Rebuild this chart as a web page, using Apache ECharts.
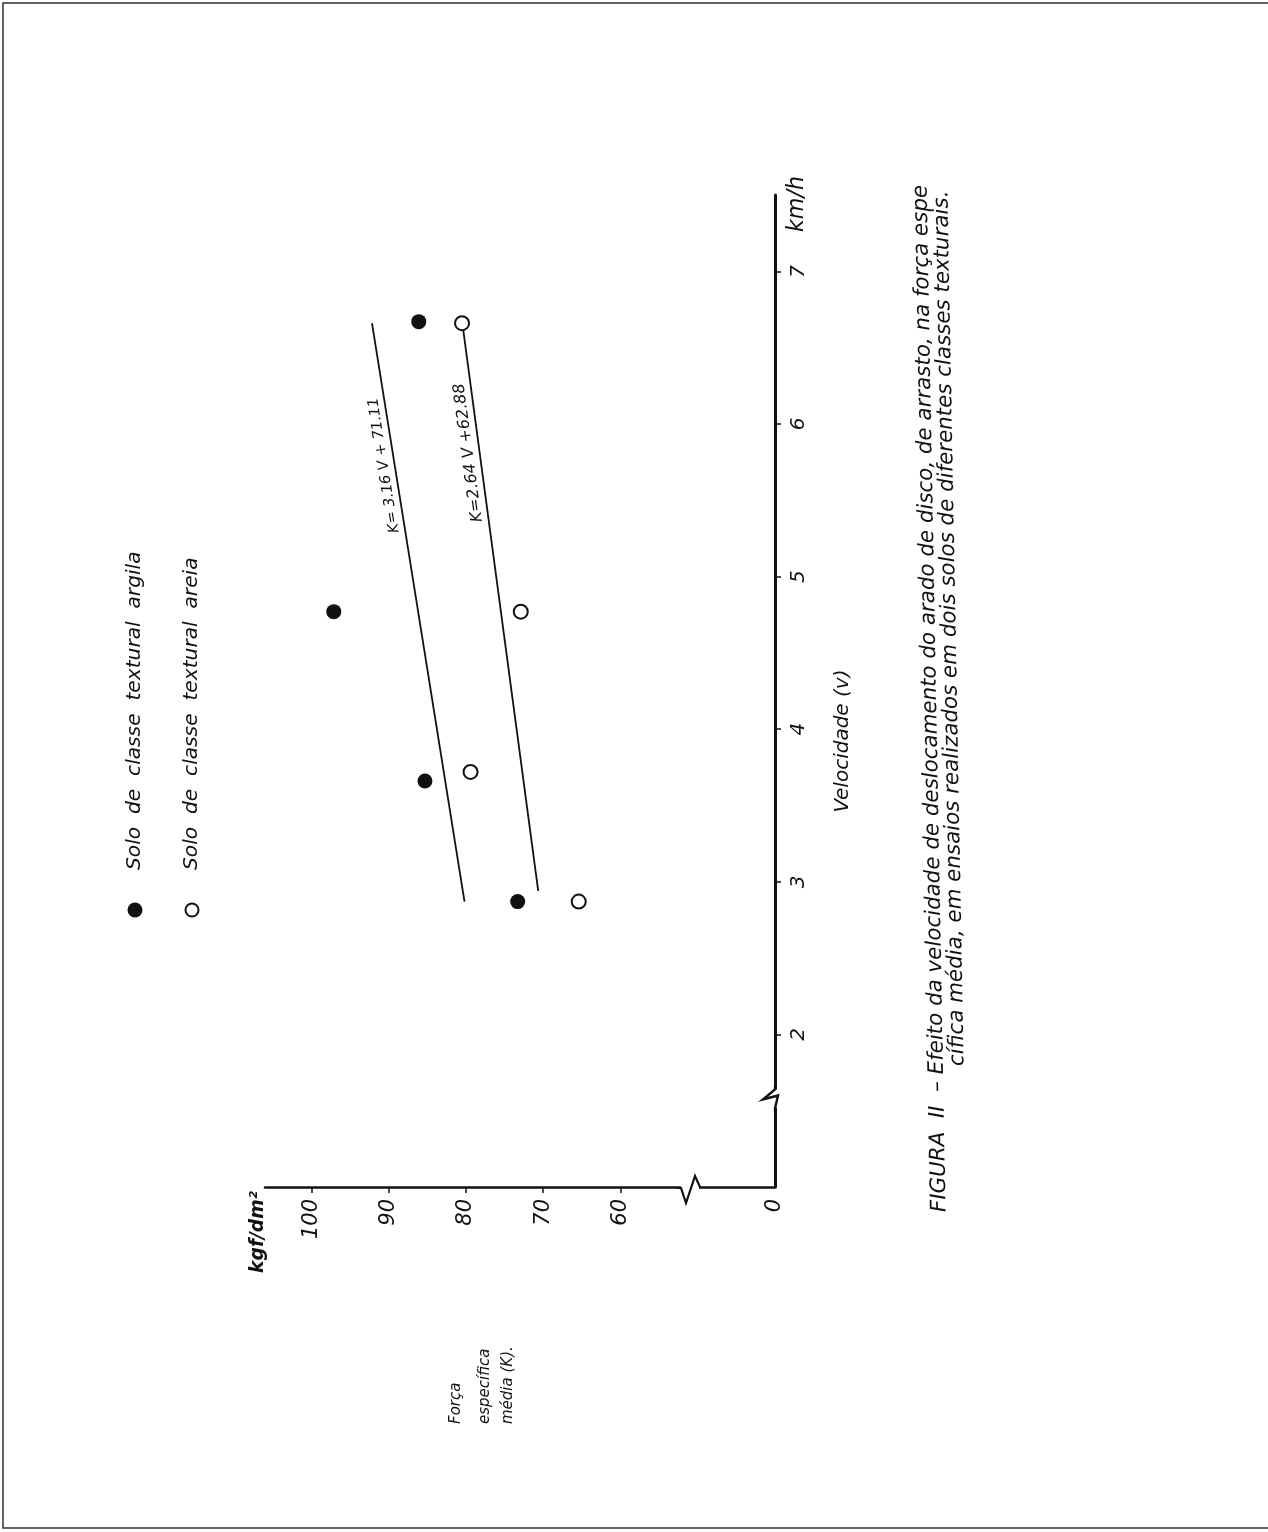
<!DOCTYPE html>
<html>
<head>
<meta charset="utf-8">
<script src="https://cdn.jsdelivr.net/npm/echarts@6/dist/echarts.min.js"></script>
<style>
  html, body { margin: 0; padding: 0; background: #ffffff; }
  #chart { width: 1268px; height: 1532px; }
</style>
</head>
<body>
<div id="chart"></div>
<script>
// Mean specific force K (kgf/dm²) against ploughing speed V (km/h)
const velArgila = [2.87, 3.66, 4.77, 6.67];
const forceArgila = [73.3, 85.3, 97.1, 86.1];
const velAreia = [2.87, 3.72, 4.77, 6.66];
const forceAreia = [65.4, 79.4, 72.9, 80.5];

// Fitted lines K = a·V + b and the speed span each one is drawn over
const fitSlope = [3.16, 2.64];
const fitIntercept = [71.11, 62.88];
const fitVelFrom = [2.87, 2.94];
const fitVelTo = [6.66, 6.67];
const fitLabels = ['K= 3.16 V + 71.11', 'K=2.64 V +62.88'];
const fitLabelVel = [5.74, 5.82];

const forceTicks = [60, 70, 80, 90, 100];
const velTicks = [2, 3, 4, 5, 6, 7];
const legendNames = ['Solo de classe textural argila', 'Solo de classe textural areia'];
const captionLines = [
  'FIGURA  II  \u2013 Efeito da velocidade de deslocamento do arado de disco, de arrasto, na força espe',
  'cífica média, em ensaios realizados em dois solos de diferentes classes texturais.'
];
const forceTitle = ['Força', 'específica', 'média (K).'];

const FONT = '"DejaVu Sans", "Liberation Sans", sans-serif';
const INK = '#111111';

// Font size that makes a text run a given length
const measureCtx = document.createElement('canvas').getContext('2d');
function fitSize(text, prefix, length) {
  measureCtx.font = prefix + ' 100px ' + FONT;
  return 100 * length / measureCtx.measureText(text).width;
}

const chart = echarts.init(document.getElementById('chart'), null, { renderer: 'canvas' });

function pairs(xs, ys) { return xs.map((v, i) => [ys[i], v]); }
function fitLine(i) {
  return [fitVelFrom[i], fitVelTo[i]].map(v => [fitSlope[i] * v + fitIntercept[i], v]);
}

chart.setOption({
  animation: false,
  backgroundColor: '#ffffff',
  grid: { left: 265, right: 493, top: 195, bottom: 345, containLabel: false },
  // Force runs right-to-left, speed bottom-to-top: the sheet is read turned sideways
  xAxis: {
    type: 'value', min: 40, max: 106, interval: 10, inverse: true, position: 'bottom',
    splitLine: { show: false },
    axisLine: { onZero: false, lineStyle: { color: INK, width: 2.6 } },
    axisTick: { show: true, inside: false, length: 6, customValues: forceTicks, lineStyle: { color: INK, width: 1.5 } },
    axisLabel: {
      customValues: [40].concat(forceTicks),
      formatter: v => (v === 40 ? '0' : String(v)),
      rotate: 90, margin: 12, color: INK, fontFamily: FONT, fontStyle: 'italic', fontSize: 21
    }
  },
  yAxis: {
    type: 'value', min: 1, max: 7.5, interval: 1, position: 'right',
    splitLine: { show: false },
    axisLine: { onZero: false, lineStyle: { color: INK, width: 3 } },
    axisTick: { show: true, inside: false, length: 6, customValues: velTicks, lineStyle: { color: INK, width: 1.5 } },
    axisLabel: {
      customValues: velTicks,
      rotate: 90, margin: 14, color: INK, fontFamily: FONT, fontStyle: 'italic', fontSize: 20
    }
  },
  series: [
    {
      name: legendNames[0], type: 'scatter', data: pairs(velArgila, forceArgila),
      symbol: 'circle', symbolSize: 15, itemStyle: { color: INK, opacity: 1 }, z: 5
    },
    {
      name: legendNames[1], type: 'scatter', data: pairs(velAreia, forceAreia),
      symbol: 'circle', symbolSize: 14,
      itemStyle: { color: '#ffffff', borderColor: INK, borderWidth: 2, opacity: 1 }, z: 5
    },
    {
      type: 'line', data: fitLine(0), symbol: 'none', silent: true,
      lineStyle: { color: INK, width: 1.8 }, z: 3
    },
    {
      type: 'line', data: fitLine(1), symbol: 'none', silent: true,
      lineStyle: { color: INK, width: 1.8 }, z: 3
    }
  ]
});

// Decorations that depend on the axis scales: break marks and fit labels
function px(k, v) { return chart.convertToPixel({ gridIndex: 0 }, [k, v]); }

const graphics = [];

// Break mark on the force axis
const fb = px(51, 1);
graphics.push({ type: 'rect', shape: { x: fb[0] - 9, y: fb[1] - 3, width: 18, height: 6 }, style: { fill: '#ffffff' }, z: 50 });
graphics.push({
  type: 'polyline', z: 51,
  shape: { points: [[fb[0] + 10, fb[1]], [fb[0] + 5, fb[1] - 11], [fb[0] - 4, fb[1] + 16], [fb[0] - 9, fb[1] + 1], [fb[0] - 14, fb[1] + 1]] },
  style: { stroke: INK, lineWidth: 2.2, fill: null }
});
// Break mark on the speed axis
const vb = px(40, 1.58);
graphics.push({ type: 'rect', shape: { x: vb[0] - 3, y: vb[1] - 9, width: 6, height: 18 }, style: { fill: '#ffffff' }, z: 50 });
graphics.push({
  type: 'polyline', z: 51,
  shape: { points: [[vb[0], vb[1] - 12], [vb[0], vb[1] - 9], [vb[0] - 12, vb[1] + 1], [vb[0] + 3, vb[1] - 3], [vb[0], vb[1] + 10], [vb[0], vb[1] + 13]] },
  style: { stroke: INK, lineWidth: 2.4, fill: null }
});

// Equations written along their fitted lines
const eqLengths = [137, 157];
fitLabels.forEach((txt, i) => {
  const a = px(fitSlope[i] * fitVelFrom[i] + fitIntercept[i], fitVelFrom[i]);
  const b = px(fitSlope[i] * fitVelTo[i] + fitIntercept[i], fitVelTo[i]);
  const ang = Math.atan2(-(b[1] - a[1]), b[0] - a[0]);
  const v = fitLabelVel[i];
  const p = px(fitSlope[i] * v + fitIntercept[i], v);
  const nx = -Math.sin(ang), ny = -Math.cos(ang);
  const size = Math.min(16, fitSize(txt, 'italic', eqLengths[i]));
  graphics.push({
    type: 'text', x: p[0] + nx * 3, y: p[1] + ny * 3, rotation: ang, z: 20,
    style: { text: txt, fill: INK, font: 'italic ' + size.toFixed(1) + 'px ' + FONT, align: 'center', verticalAlign: 'bottom' }
  });
});

// Legend, drawn sideways like the rest of the sheet
const legendText = legendNames.map(s => s.replace(/ /g, '  '));
const legendSize = fitSize(legendText[0], 'italic', 318);
[[135, true], [192, false]].forEach(([x, filled], i) => {
  graphics.push({
    type: 'circle', shape: { cx: x, cy: 910, r: filled ? 7.5 : 6.5 }, z: 20,
    style: filled ? { fill: INK } : { fill: '#ffffff', stroke: INK, lineWidth: 2 }
  });
  graphics.push({
    type: 'text', x: x, y: 870, rotation: Math.PI / 2, z: 20,
    style: { text: legendText[i], fill: INK, font: 'italic ' + legendSize.toFixed(1) + 'px ' + FONT, align: 'left', verticalAlign: 'middle' }
  });
});

// Axis titles
graphics.push({
  type: 'text', x: 843, y: 741, rotation: Math.PI / 2, z: 20,
  style: { text: 'Velocidade (v)', fill: INK, font: 'italic 20px ' + FONT, align: 'center', verticalAlign: 'middle' }
});
graphics.push({
  type: 'text', x: 797, y: 204, rotation: Math.PI / 2, z: 20,
  style: { text: 'km/h', fill: INK, font: 'italic ' + fitSize('km/h', 'italic', 56).toFixed(1) + 'px ' + FONT, align: 'center', verticalAlign: 'middle' }
});
graphics.push({
  type: 'text', x: 258, y: 1232, rotation: Math.PI / 2, z: 20,
  style: { text: 'kgf/dm²', fill: INK, font: 'italic bold ' + fitSize('kgf/dm²', 'italic bold', 82).toFixed(1) + 'px ' + FONT, align: 'center', verticalAlign: 'middle' }
});
[456, 485, 508].forEach((x, i) => {
  graphics.push({
    type: 'text', x: x, y: 1424, rotation: Math.PI / 2, z: 20,
    style: { text: forceTitle[i], fill: INK, font: 'italic 15px ' + FONT, align: 'left', verticalAlign: 'middle' }
  });
});

// Caption, two lines with a slight tilt
const capRot = Math.PI / 2 + 0.0185;
const capSize = fitSize(captionLines[0], 'italic', 1029);
[[940, 1212], [958, 1066]].forEach(([x, y], i) => {
  graphics.push({
    type: 'text', x: x, y: y, rotation: capRot, z: 20,
    style: { text: captionLines[i], fill: INK, font: 'italic ' + capSize.toFixed(1) + 'px ' + FONT, align: 'left', verticalAlign: 'middle' }
  });
});

// Sheet frame
graphics.push({
  type: 'polyline', z: 10,
  shape: { points: [[1268, 3], [3, 3], [3, 1528], [1268, 1528]] },
  style: { stroke: '#333333', lineWidth: 1.5, fill: null }
});

chart.setOption({ graphic: graphics });
</script>
</body>
</html>
